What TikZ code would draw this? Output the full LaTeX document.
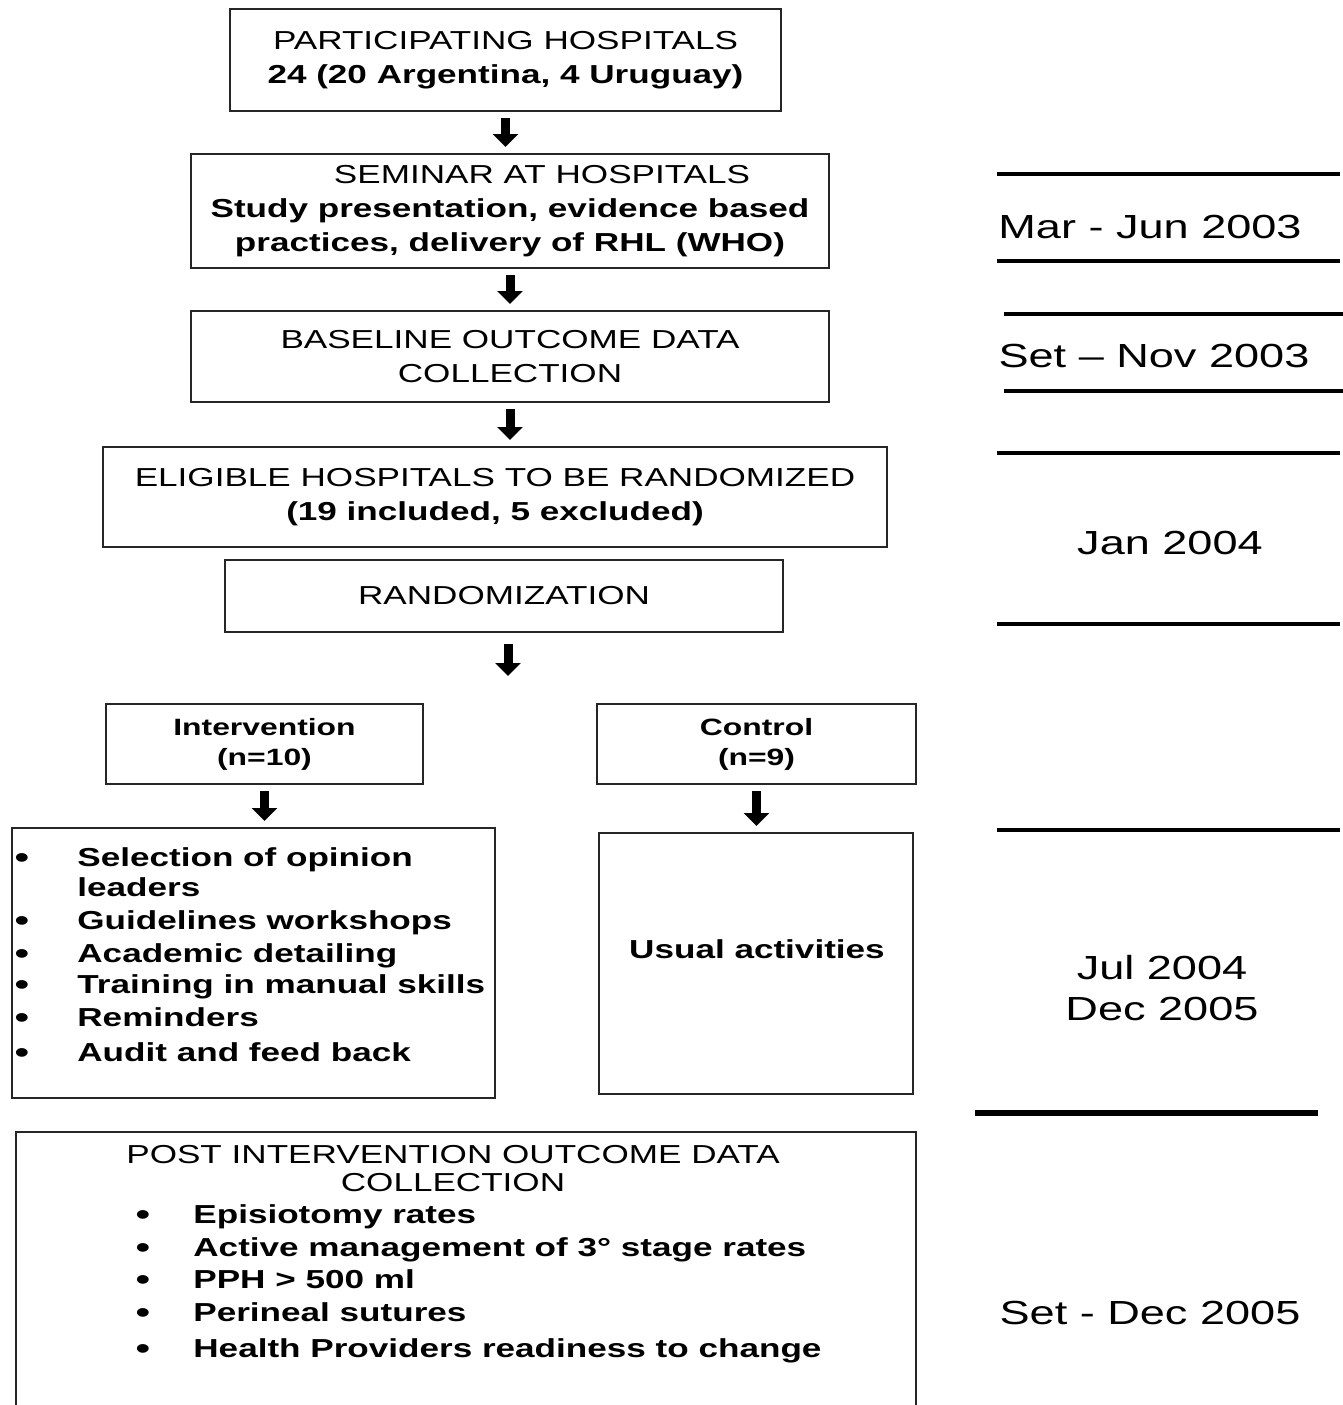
\documentclass[tikz,border=0pt]{standalone}
\usepackage{fontspec}
\setmainfont{Liberation Sans}[FakeStretch=1.35]
\usetikzlibrary{arrows.meta}
\newcommand{\boxfont}  {\fontsize{13}{17}\selectfont}
\newcommand{\tightfont}{\fontsize{13}{14}\selectfont}
\newcommand{\grpfont}  {\fontsize{11.8}{15}\selectfont\bfseries}
\newcommand{\datefont} {\fontsize{16.7}{20.5}\selectfont}
\newcommand{\dotfont}  {\fontsize{16}{17}\selectfont}

\begin{document}
\begin{tikzpicture}[x=0.5pt,y=-0.5pt,
   stagebox/.style={draw=black!85,line width=1pt,inner sep=0pt,align=center,font=\boxfont},
   flow/.style={-{Triangle[width=12.5pt,length=6.5pt]},line width=4.5pt,shorten <=3pt,shorten >=3pt},
   txt/.style={inner sep=0pt,text height=0.72em,text depth=0pt},
   bul/.style={inner sep=0pt,font=\dotfont},
   itemtxt/.style={txt,anchor=west,font=\boxfont\bfseries},
   datetxt/.style={inner sep=0pt,align=center,font=\datefont},
   sepline/.style={line width=2pt}]
   \useasboundingbox (0,0) rectangle (1343,1405);
   % flow of stages
   \node[stagebox,minimum width=275.5pt,minimum height=51pt] (hosp) at (505.5,60)
      {PARTICIPATING HOSPITALS\\ \textbf{24 (20 Argentina, 4 Uruguay)}};
   \node[stagebox,minimum width=319pt,minimum height=57pt] (seminar) at (510,211)
      {\hspace*{32pt}SEMINAR AT HOSPITALS\\ \textbf{Study presentation, evidence based}\\ \textbf{practices, delivery of RHL (WHO)}};
   \node[stagebox,minimum width=319pt,minimum height=45.5pt] (baseline) at (510,356.5)
      {BASELINE OUTCOME DATA\\ COLLECTION};
   \node[stagebox,minimum width=392pt,minimum height=50pt] (eligible) at (495,497)
      {ELIGIBLE HOSPITALS TO BE RANDOMIZED\\ \textbf{(19 included, 5 excluded)}};
   \node[stagebox,minimum width=279pt,minimum height=36pt] (random) at (504,596) {RANDOMIZATION};
   \coordinate (split) at (508,676);
   \node[stagebox,font=\grpfont,minimum width=158.5pt,minimum height=40pt] (interv) at (264.5,744)
      {Intervention\\ (n=10)};
   \node[stagebox,font=\grpfont,minimum width=159.5pt,minimum height=40pt] (control) at (756.5,744)
      {Control\\ (n=9)};
   \node[stagebox,minimum width=241.5pt,minimum height=135pt] (ivlist) at (253.5,963) {};
   \node[stagebox,minimum width=157pt,minimum height=130.5pt] (usual) at (756,963.5) {};
   \node[stagebox,minimum width=450pt,minimum height=140pt] (post) at (466,1272) {};

   \draw[flow] (hosp.south) -- (hosp.south |- seminar.north);
   \draw[flow] (seminar.south) -- (seminar.south |- baseline.north);
   \draw[flow] (baseline.south) -- (baseline.south |- eligible.north);
   \draw[flow,shorten <=5.5pt,shorten >=0pt] (random.south -| split) -- (split);
   \draw[flow] (interv.south) -- (interv.south |- ivlist.north);
   \draw[flow] (control.south) -- (control.south |- usual.north);

   % intervention activities
   \node[bul] (ib1) at (22,861)  {•};
   \node[bul] (ib2) at (22,924)  {•};
   \node[bul] (ib3) at (22,957)  {•};
   \node[bul] (ib4) at (22,988)  {•};
   \node[bul] (ib5) at (22,1021) {•};
   \node[bul] (ib6) at (22,1056) {•};
   \node[itemtxt] (it1) at (77,859)  {Selection of opinion};
   \node[itemtxt] (it2) at (77,889)  {leaders};
   \node[itemtxt] (it3) at (77,922)  {Guidelines workshops};
   \node[itemtxt] (it4) at (77,955)  {Academic detailing};
   \node[itemtxt] (it5) at (77,986)  {Training in manual skills};
   \node[itemtxt] (it6) at (77,1019) {Reminders};
   \node[itemtxt] (it7) at (77,1054) {Audit and feed back};
   \node[txt,font=\boxfont\bfseries] (usualtxt) at (757,951) {Usual activities};

   % post intervention outcomes
   \node[inner sep=0pt,align=center,font=\tightfont] (posttitle) at (453,1169)
      {POST INTERVENTION OUTCOME DATA\\ COLLECTION};
   \node[bul] (pb1) at (143,1218) {•};
   \node[bul] (pb2) at (143,1251) {•};
   \node[bul] (pb3) at (143,1283) {•};
   \node[bul] (pb4) at (143,1316) {•};
   \node[bul] (pb5) at (143,1352) {•};
   \node[itemtxt] (pt1) at (193,1216) {Episiotomy rates};
   \node[itemtxt] (pt2) at (193,1249) {Active management of 3° stage rates};
   \node[itemtxt] (pt3) at (193,1281) {PPH > 500 ml};
   \node[itemtxt] (pt4) at (193,1314) {Perineal sutures};
   \node[itemtxt] (pt5) at (193,1350) {Health Providers readiness to change};

   % time line
   \draw[sepline] (997,174) -- (1340,174);
   \draw[sepline] (997,261) -- (1340,261);
   \draw[sepline] (1004,314) -- (1343,314);
   \draw[sepline] (1004,391) -- (1343,391);
   \draw[sepline] (997,453) -- (1340,453);
   \draw[sepline] (997,624) -- (1340,624);
   \draw[sepline] (997,830) -- (1340,830);
   \draw[sepline,line width=3pt] (975,1113) -- (1318,1113);
   \node[datetxt] (mar) at (1150,227)  {Mar - Jun 2003};
   \node[datetxt] (sep) at (1154,356)  {Set – Nov 2003};
   \node[datetxt] (jan) at (1170,543)  {Jan 2004};
   \node[datetxt] (jul) at (1162,988)  {Jul 2004\\ Dec 2005};
   \node[datetxt] (dec) at (1150,1313) {Set - Dec 2005};
\end{tikzpicture}
\end{document}
